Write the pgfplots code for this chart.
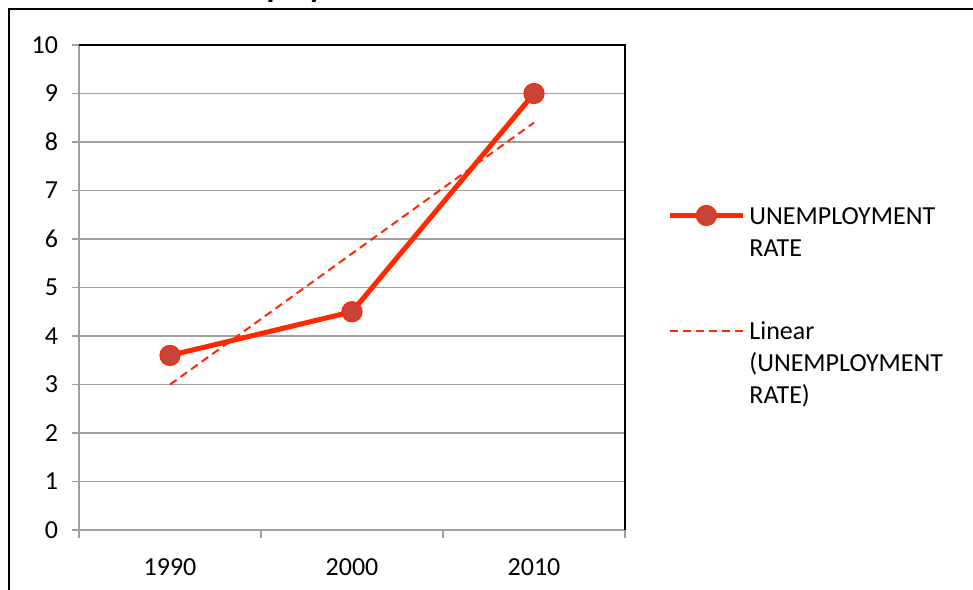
\documentclass[border=0pt]{standalone}
\usepackage{pgfplots}
\pgfplotsset{compat=1.18}
\usepackage{fontspec}
\setmainfont{Carlito}
\definecolor{linered}{RGB}{255,40,0}
\definecolor{markfill}{RGB}{200,68,56}
\definecolor{gridgray}{RGB}{160,160,160}
\begin{document}
\begin{tikzpicture}
\useasboundingbox (0,0) rectangle (486.5pt,-294.5pt);
\clip (0,0) rectangle (486.5pt,-294.5pt);
\node[anchor=base west, inner sep=0pt, font=\fontsize{16}{19}\selectfont\bfseries] at (93pt,1.4pt) {Unemployment Rate};
\draw[line width=1pt] (4.5pt,-300pt) -- (4.5pt,-4.5pt) -- (490pt,-4.5pt);
\begin{axis}[
  at={(39.5pt,-265pt)}, anchor=south west,
  scale only axis, width=273pt, height=242.5pt,
  xmin=0.5, xmax=3.5, ymin=0, ymax=10,
  xtick={0.5,1.5,2.5,3.5}, xticklabels={},
  extra x ticks={1,2,3}, extra x tick labels={1990,2000,2010},
  extra x tick style={major tick length=0pt, grid=none},
  ytick={0,1,...,10},
  xtick pos=lower, ytick pos=left,
  tick align=outside, major tick length=3.75pt,
  tick style={gridgray, line width=0.75pt},
  ymajorgrids, grid style={gridgray, line width=0.75pt},
  axis line style={gridgray, line width=0.75pt},
  font=\fontsize{13}{16}\selectfont,
  /pgf/number format/assume math mode=true,
  xticklabel style={yshift=-11pt},
  yticklabel style={xshift=-3.2pt},
  legend style={at={(axis description cs:1.077,0.686)}, anchor=north west,
    draw=none, fill=none, inner sep=0pt, row sep=41pt,
    cells={anchor=base west}, font=\fontsize{13}{16}\selectfont},
  legend image code/.code={\draw[mark repeat=2,mark phase=2,#1] plot coordinates {(0pt,4.3pt) (18.25pt,4.3pt) (36.5pt,4.3pt)};},
  clip=false,
]
\addplot[linered, line width=2.5pt, mark=*, mark size=5pt,
  mark options={fill=markfill, draw=linered, line width=0.6pt}]
  coordinates {(1,3.6) (2,4.5) (3,9.0)};
\addlegendentry{\begin{tabular}[t]{@{}l@{}}UNEMPLOYMENT\\RATE\end{tabular}}
\addplot[linered, line width=1pt, dash pattern=on 4pt off 2.5pt]
  coordinates {(1,3.0) (3,8.4)};
\addlegendentry{\begin{tabular}[t]{@{}l@{}}Linear\\(UNEMPLOYMENT\\RATE)\end{tabular}}
\draw[black, line width=1pt] (rel axis cs:0,1) -- (rel axis cs:1,1) -- (rel axis cs:1,0);
\end{axis}
\end{tikzpicture}
\end{document}
